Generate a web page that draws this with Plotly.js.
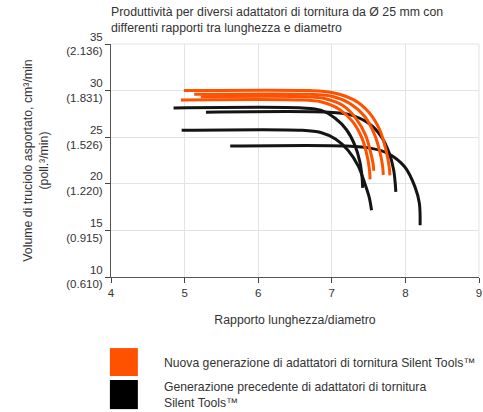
<!DOCTYPE html>
<html>
<head>
<meta charset="utf-8">
<script src="https://cdn.plot.ly/plotly-3.0.1.min.js"></script>
<style>html,body{margin:0;padding:0;background:#fff;}#chart{width:483px;height:412px;}</style>
</head>
<body>
<div id="chart"></div>
<script>
// New generation (orange) curves: L/D ratio vs metal removal rate (cm3/min)
const newX1 = [4.99, 6.70, 7.00, 7.30, 7.50, 7.65, 7.74, 7.78, 7.79];
const newY1 = [30.0, 30.0, 29.8, 29.0, 27.7, 25.8, 23.5, 21.8, 20.9];
const newX2 = [5.13, 6.70, 7.00, 7.25, 7.45, 7.58, 7.66, 7.69, 7.70];
const newY2 = [29.6, 29.6, 29.4, 28.6, 27.2, 25.3, 23.2, 21.9, 20.96];
const newX3 = [5.22, 6.60, 6.90, 7.15, 7.33, 7.46, 7.53, 7.56, 7.57];
const newY3 = [29.35, 29.35, 29.15, 28.4, 27.0, 25.2, 23.3, 22.2, 21.4];
const newX4 = [4.95, 6.55, 6.85, 7.10, 7.28, 7.41, 7.48, 7.51, 7.52];
const newY4 = [29.0, 29.0, 28.8, 28.0, 26.7, 24.9, 23.0, 21.6, 20.47];

// Previous generation (black) curves
const oldX1 = [4.85, 6.60, 6.85, 7.05, 7.20, 7.31, 7.38, 7.41, 7.42];
const oldY1 = [28.14, 28.14, 27.9, 27.0, 25.8, 24.2, 22.4, 20.8, 19.56];
const oldX2 = [5.29, 6.95, 7.25, 7.50, 7.67, 7.78, 7.84, 7.86, 7.87];
const oldY2 = [27.68, 27.68, 27.4, 26.5, 25.1, 23.3, 21.5, 20.2, 19.13];
const oldX3 = [4.96, 6.60, 6.85, 7.05, 7.22, 7.36, 7.45, 7.51, 7.54];
const oldY3 = [25.74, 25.74, 25.5, 24.8, 23.6, 21.9, 20.0, 18.5, 17.16];
const oldX4 = [5.62, 7.20, 7.54, 7.76, 7.99, 8.13, 8.19, 8.20];
const oldY4 = [24.05, 24.05, 23.8, 23.27, 21.83, 19.67, 17.9, 15.55];

const yTickVals = [10, 15, 20, 25, 30, 35];
const yTickText = ["10<br>(0.610)", "15<br>(0.915)", "20<br>(1.220)", "25<br>(1.526)", "30<br>(1.831)", "35<br>(2.136)"];
const xTickVals = [4, 5, 6, 7, 8, 9];

const chartTitle = "Produttività per diversi adattatori di tornitura da Ø 25 mm con<br>differenti rapporti tra lunghezza e diametro";
const legendLabels = ["Nuova generazione di adattatori di tornitura Silent Tools™",
                      "Generazione precedente di adattatori di tornitura<br>Silent Tools™"];

const ORANGE = "#ff5200";
const BLACK = "#141414";
const FONT = "Liberation Sans, Arial, sans-serif";

function tr(x, y, c) {
  return {x: x, y: y, type: "scatter", mode: "lines", showlegend: false, hoverinfo: "skip",
          line: {color: c, width: 3, shape: "spline", smoothing: 0.9}};
}

const data = [
  tr(oldX1, oldY1, BLACK), tr(oldX2, oldY2, BLACK), tr(oldX3, oldY3, BLACK), tr(oldX4, oldY4, BLACK),
  tr(newX1, newY1, ORANGE), tr(newX2, newY2, ORANGE), tr(newX3, newY3, ORANGE), tr(newX4, newY4, ORANGE)
];

const layout = {
  width: 483, height: 412,
  margin: {l: 111, r: 4, t: 44, b: 135},
  paper_bgcolor: "#fff", plot_bgcolor: "#fff",
  font: {family: FONT, color: "#333", size: 11},
  xaxis: {range: [4, 9], tickvals: xTickVals, ticks: "outside", ticklen: 5, tickcolor: "#444",
          showline: true, linecolor: "#555", linewidth: 1, showgrid: true, gridcolor: "#e3e3e3",
          zeroline: false, tickfont: {size: 11.5, color: "#333"},
          title: {text: "Rapporto lunghezza/diametro", font: {size: 12.3, color: "#333"}, standoff: 17}},
  yaxis: {range: [10, 35], tickvals: yTickVals, ticktext: yTickText, ticks: "outside", ticklen: 5, tickcolor: "#444",
          showline: true, linecolor: "#555", linewidth: 1, showgrid: true, gridcolor: "#e3e3e3",
          zeroline: false, tickfont: {size: 11.5, color: "#333"},
          title: {text: "Volume di truciolo asportato, cm³/min<br>(poll.³/min)", font: {size: 12.3, color: "#333"}, standoff: 14}},
  shapes: [
    {type: "line", xref: "paper", yref: "paper", x0: 0, x1: 1, y0: 1, y1: 1, line: {color: "#e3e3e3", width: 1}},
    {type: "line", xref: "paper", yref: "paper", x0: 1, x1: 1, y0: 0, y1: 1, line: {color: "#e3e3e3", width: 1}},
    {type: "rect", xref: "paper", yref: "paper", x0: -0.003, x1: 0.073, y0: -0.425, y1: -0.305,
     fillcolor: ORANGE, line: {width: 0}},
    {type: "rect", xref: "paper", yref: "paper", x0: -0.003, x1: 0.073, y0: -0.567, y1: -0.442,
     fillcolor: "#000", line: {width: 0}}
  ],
  annotations: [
    {xref: "paper", yref: "paper", x: -0.005, y: 1.101, xanchor: "left", yanchor: "middle", showarrow: false,
     align: "left", text: chartTitle, font: {size: 12.3, color: "#333"}},
    {xref: "paper", yref: "paper", x: 0.138, y: -0.369, xanchor: "left", yanchor: "middle", showarrow: false,
     align: "left", text: legendLabels[0], font: {size: 12.2, color: "#333"}},
    {xref: "paper", yref: "paper", x: 0.138, y: -0.506, xanchor: "left", yanchor: "middle", showarrow: false,
     align: "left", text: legendLabels[1], font: {size: 12.2, color: "#333"}}
  ]
};

Plotly.newPlot("chart", data, layout, {displayModeBar: false, staticPlot: true});
</script>
</body>
</html>
